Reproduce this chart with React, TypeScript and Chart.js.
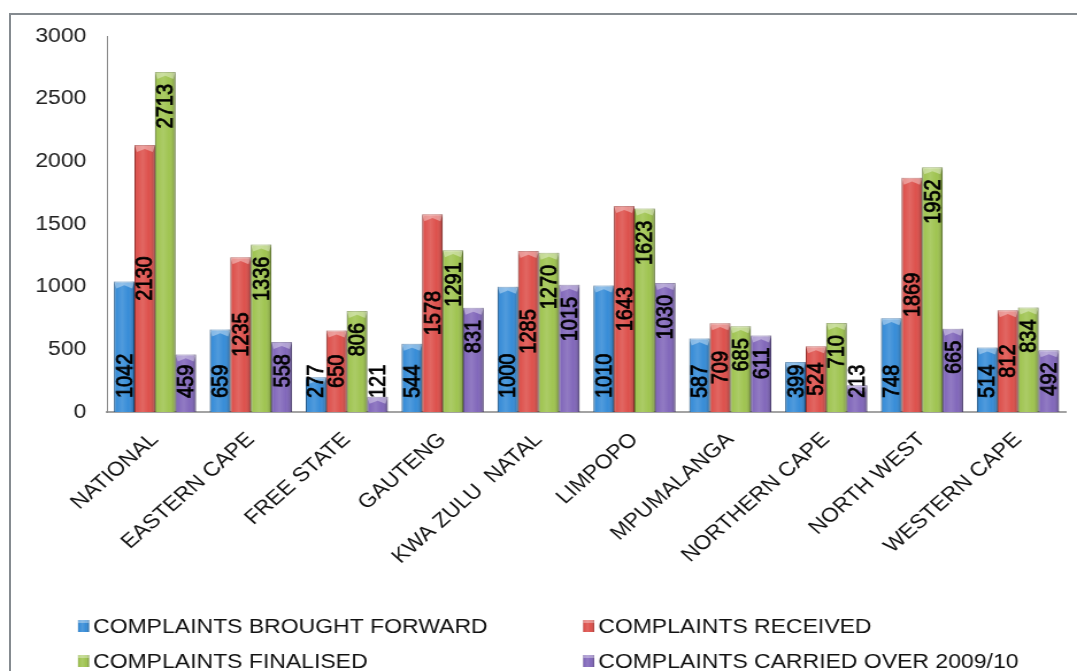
import React, { useEffect, useRef } from "react";
import { Chart, registerables } from "chart.js";

Chart.register(...registerables);

const categories = [
  "NATIONAL",
  "EASTERN CAPE",
  "FREE STATE",
  "GAUTENG",
  "KWA ZULU  NATAL",
  "LIMPOPO",
  "MPUMALANGA",
  "NORTHERN CAPE",
  "NORTH WEST",
  "WESTERN CAPE",
];
const broughtForward = [1042, 659, 277, 544, 1000, 1010, 587, 399, 748, 514];
const received = [2130, 1235, 650, 1578, 1285, 1643, 709, 524, 1869, 812];
const finalised = [2713, 1336, 806, 1291, 1270, 1623, 685, 710, 1952, 834];
const carriedOver = [459, 558, 121, 831, 1015, 1030, 611, 213, 665, 492];
const seriesNames = [
  "COMPLAINTS BROUGHT FORWARD",
  "COMPLAINTS RECEIVED",
  "COMPLAINTS FINALISED",
  "COMPLAINTS CARRIED OVER 2009/10",
];
const yMin = 0;
const yMax = 3000;
const yStep = 500;

const FONT = 'Arial, "Liberation Sans", sans-serif';
const CSS_W = 1077;
const CSS_H = 671;
const STRETCH = 1.149;
const INT_W = Math.round(CSS_W / STRETCH);

const fills = ["#2f88d6", "#dc4a45", "#9cc24a", "#7d62b8"];
const edges = ["#1b5f9e", "#a8302c", "#6f8f2c", "#584589"];
const labelAnchors = ["start", "center", "end", "end"];

function shadeBar(ctx: CanvasRenderingContext2D, left: number, top: number, w: number, h: number) {
  const g = ctx.createLinearGradient(left, 0, left + w, 0);
  g.addColorStop(0, "rgba(0,0,0,0.22)");
  g.addColorStop(0.12, "rgba(255,255,255,0.05)");
  g.addColorStop(0.4, "rgba(255,255,255,0.16)");
  g.addColorStop(0.7, "rgba(255,255,255,0.04)");
  g.addColorStop(1, "rgba(0,0,0,0.28)");
  ctx.fillStyle = g;
  ctx.fillRect(left, top, w, h);
}

const decorPlugin = {
  id: "decor",
  afterDatasetsDraw(chart: any) {
    const ctx: CanvasRenderingContext2D = chart.ctx;
    ctx.save();
    chart.data.datasets.forEach((ds: any, di: number) => {
      const meta = chart.getDatasetMeta(di);
      meta.data.forEach((el: any) => {
        const { x, y, base, width } = el.getProps(["x", "y", "base", "width"], true);
        const left = x - width / 2;
        const h = base - y;
        shadeBar(ctx, left, y, width, h);
        const bev = Math.min(7, h);
        ctx.beginPath();
        ctx.moveTo(left, y);
        ctx.lineTo(left + width, y);
        ctx.lineTo(left + width - 2, y + bev);
        ctx.lineTo(x, y + bev * 0.55);
        ctx.lineTo(left + 2, y + bev);
        ctx.closePath();
        ctx.fillStyle = "rgba(255,255,255,0.38)";
        ctx.fill();
      });
    });
    ctx.font = `20px ${FONT}`;
    ctx.fillStyle = "#000";
    ctx.strokeStyle = "#000";
    ctx.lineWidth = 0.7;
    ctx.textBaseline = "middle";
    chart.data.datasets.forEach((ds: any, di: number) => {
      const meta = chart.getDatasetMeta(di);
      const anchor = labelAnchors[di];
      meta.data.forEach((el: any, i: number) => {
        const { x, y, base } = el.getProps(["x", "y", "base"], true);
        const txt = String(ds.data[i]);
        const len = ctx.measureText(txt).width;
        const bottomLimit = base - 14;
        let bottom = bottomLimit;
        if (anchor === "center") {
          bottom = Math.min(bottomLimit, (y + base) / 2 + len / 2);
        } else if (anchor === "end") {
          const b = y + 12 + len;
          bottom = b <= bottomLimit ? b : bottomLimit;
        }
        ctx.save();
        ctx.translate(x, bottom);
        ctx.rotate(-Math.PI / 2);
        ctx.textAlign = "left";
        ctx.fillText(txt, 0, 1);
        ctx.strokeText(txt, 0, 1);
        ctx.restore();
      });
    });
    ctx.restore();
  },
  afterDraw(chart: any) {
    const ctx: CanvasRenderingContext2D = chart.ctx;
    ctx.save();
    const cols = [78 / STRETCH, 583 / STRETCH];
    const rows = [626, 661];
    ctx.font = `20px ${FONT}`;
    ctx.textBaseline = "middle";
    ctx.textAlign = "left";
    seriesNames.forEach((name, i) => {
      const cx = cols[i % 2];
      const cy = rows[Math.floor(i / 2)];
      const mw = 11 / STRETCH;
      const mh = 12;
      ctx.fillStyle = fills[i];
      ctx.fillRect(cx, cy - mh / 2, mw, mh);
      shadeBar(ctx, cx, cy - mh / 2, mw, mh);
      ctx.fillStyle = "rgba(255,255,255,0.35)";
      ctx.fillRect(cx, cy - mh / 2, mw, 3);
      ctx.fillStyle = "#111";
      ctx.fillText(name, cx + 15 / STRETCH, cy + 1);
    });
    ctx.restore();
  },
};

export default function App() {
  const ref = useRef<HTMLCanvasElement | null>(null);
  useEffect(() => {
    const canvas = ref.current!;
    const datasets = [broughtForward, received, finalised, carriedOver].map((d, i) => ({
      label: seriesNames[i],
      data: d,
      backgroundColor: fills[i],
      borderColor: edges[i],
      borderWidth: 1,
      categoryPercentage: 0.855,
      barPercentage: 1,
    }));
    const chart = new Chart(canvas, {
      type: "bar",
      data: { labels: categories, datasets },
      options: {
        animation: false,
        responsive: false,
        devicePixelRatio: 1,
        layout: { padding: { left: 0, top: 36, right: 9.6, bottom: 0 } },
        plugins: {
          legend: { display: false },
          tooltip: { enabled: false },
        },
        scales: {
          x: {
            grid: { display: false, drawTicks: false },
            border: { display: true, color: "#a3a3a3", width: 2 },
            ticks: {
              autoSkip: false,
              minRotation: 45,
              maxRotation: 45,
              padding: 16,
              color: "#111",
              font: { family: FONT, size: 20 },
            },
            afterFit: (s: any) => {
              s.height = CSS_H - 412;
            },
          },
          y: {
            min: yMin,
            max: yMax,
            grid: { display: false, drawTicks: false },
            border: { display: true, color: "#8a8a8a", width: 1 },
            ticks: {
              stepSize: yStep,
              padding: 18,
              color: "#222",
              font: { family: FONT, size: 20 },
              callback: (v: any) => String(v),
            },
            afterFit: (s: any) => {
              s.width = 107 / STRETCH;
            },
          },
        },
      },
      plugins: [decorPlugin],
    });
    return () => chart.destroy();
  }, []);

  return (
    <div
      style={{
        position: "absolute",
        left: 0,
        top: 0,
        width: CSS_W,
        height: CSS_H,
        overflow: "hidden",
        background: "#fff",
      }}
    >
      <canvas
        ref={ref}
        width={INT_W}
        height={CSS_H}
        style={{ width: CSS_W + "px", height: CSS_H + "px", display: "block" }}
      />
      <div
        style={{
          position: "absolute",
          left: 9,
          top: 13,
          width: 1100,
          height: 700,
          border: "2px solid #858b90",
          boxSizing: "border-box",
          pointerEvents: "none",
        }}
      />
    </div>
  );
}
